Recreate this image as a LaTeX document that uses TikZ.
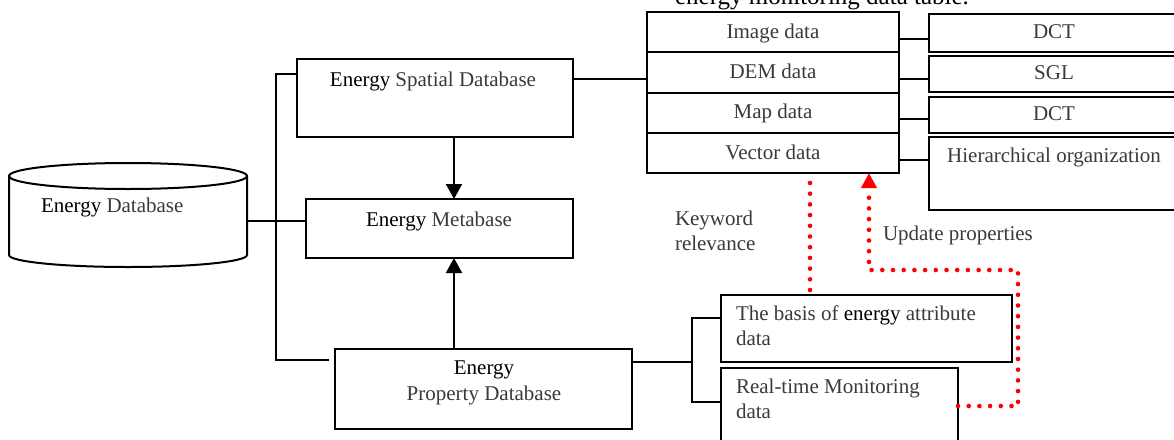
\documentclass[tikz,border=0pt]{standalone}
\usepackage{fontspec}
\setmainfont{Liberation Serif}
\usetikzlibrary{arrows.meta,calc}
\definecolor{txtgray}{HTML}{3A3A3A}
\definecolor{dotred}{HTML}{FF0000}
\newcommand{\En}{{\color{black}Energy}}
\begin{document}
\begin{tikzpicture}[x=1pt,y=-1pt,
  ln/.style={line width=2pt,draw=black},
  box/.style={draw=black,line width=2pt,inner sep=0pt,outer sep=0pt,fill=white},
  lbl/.style={inner sep=0pt,outer sep=0pt,text=txtgray,font=\fontsize{21}{25}\selectfont,text height=14.5pt,text depth=4.5pt},
  arr/.style={line width=2pt,-{Triangle[length=15pt,width=16pt]}},
  reddot/.style={draw=dotred,line width=4.6pt,line cap=round,dash pattern=on 0pt off 10.7pt}]
\useasboundingbox (0,0) rectangle (1174,439);
\fill[white] (0,0) rectangle (1174,439);

% title (cut at the top)
\node[inner sep=0pt,anchor=base,font=\fontsize{25}{30}\selectfont] (title) at (822,4.5) {energy monitoring data table.};

% cylinder
\node[inner sep=0pt,minimum width=238,minimum height=80] (db) at (128,221) {};
\draw[line width=2pt,fill=white] (9,176) -- (9,255) arc[start angle=180,end angle=0,x radius=119,y radius=12] -- (247,176);
\draw[line width=2pt] (128,176) ellipse[x radius=119,y radius=13];
\node[lbl,anchor=west] (tdb) at (41,207) {\En{} Database};

% main boxes
\node[box,minimum width=276,minimum height=78] (spatial) at (435,98) {};
\node[box,minimum width=267,minimum height=59] (meta) at (439.5,228.5) {};
\node[box,minimum width=297,minimum height=80] (prop) at (483.5,389) {};
\node[lbl] (tsp) at (433,81) {\En{} Spatial Database};
\node[lbl] (tme) at (439,221) {\En{} Metabase};
\node[lbl] (tpr1) at (484,369) {\En};
\node[lbl] (tpr2) at (484,395) {Property Database};

% table
\node[box,minimum width=252,minimum height=40] (r1) at (773,32) {};
\node[box,minimum width=252,minimum height=41] (r2) at (773,72.5) {};
\node[box,minimum width=252,minimum height=40] (r3) at (773,113) {};
\node[box,minimum width=252,minimum height=40] (r4) at (773,153) {};
\node[lbl] (tr1) at (773,33) {Image data};
\node[lbl] (tr2) at (773,73) {DEM data};
\node[lbl] (tr3) at (773,113) {Map data};
\node[lbl] (tr4) at (773,154) {Vector data};

% right boxes
\node[box,minimum width=251.5,minimum height=38] (b1) at (1054.25,33) {};
\node[box,minimum width=251.5,minimum height=36] (b2) at (1054.25,74) {};
\node[box,minimum width=251.5,minimum height=36] (b3) at (1054.25,115) {};
\node[box,minimum width=251.5,minimum height=73] (b4) at (1054.25,173.5) {};
\node[lbl] (tb1) at (1054,33) {DCT};
\node[lbl] (tb2) at (1054,74) {SGL};
\node[lbl] (tb3) at (1054,115) {DCT};
\node[lbl] (tb4) at (1054,157) {Hierarchical organization};

% attribute boxes
\node[box,minimum width=291,minimum height=67] (basis) at (866.5,328.5) {};
\node[box,minimum width=237,minimum height=82] (rt) at (839.5,409) {};
\node[lbl,anchor=west] (tba1) at (736,315) {The basis of {\color{black}energy} attribute};
\node[lbl,anchor=west] (tba2) at (736,340) {data};
\node[lbl,anchor=west] (trt1) at (736,388) {Real-time Monitoring};
\node[lbl,anchor=west] (trt2) at (736,413) {data};

% free labels
\node[lbl,anchor=west] (kw1) at (675,220) {Keyword};
\node[lbl,anchor=west] (kw2) at (675,245) {relevance};
\node[lbl,anchor=west] (upd) at (883,235) {Update properties};

% helper coordinates
\coordinate (busTop) at (276,74);
\coordinate (busBot) at (276,360);
\coordinate (busEnd) at (329,360);
\coordinate (ax) at (454,0);
\coordinate (ys) at (0,79);
\coordinate (y1) at (0,39);
\coordinate (y2) at (0,79);
\coordinate (y3) at (0,119);
\coordinate (y4) at (0,160);
\coordinate (yp) at (0,362);
\coordinate (fork) at (692,0);
\coordinate (yb) at (0,318);
\coordinate (yr) at (0,402);
\coordinate (kx) at (810,0);
\coordinate (ux) at (869,0);
\coordinate (rx) at (1018,0);
\coordinate (ry1) at (0,270);
\coordinate (ry2) at (0,406);

% black connectors
\draw[ln] (spatial.west |- busTop) -- (busTop) -- (busBot) -- (busEnd);
\draw[ln] (db.east) -- (db.east -| meta.west);
\draw[arr] (spatial.south -| ax) -- (meta.north -| ax);
\draw[arr] (prop.north -| ax) -- (meta.south -| ax);
\draw[ln] (spatial.east |- ys) -- (r2.west |- ys);
\draw[ln] (r1.east |- y1) -- (b1.west |- y1);
\draw[ln] (r2.east |- y2) -- (b2.west |- y2);
\draw[ln] (r3.east |- y3) -- (b3.west |- y3);
\draw[ln] (r4.east |- y4) -- (b4.west |- y4);
\draw[ln] (prop.east |- yp) -- (fork |- yp);
\draw[ln] (basis.west |- yb) -- (fork |- yb) -- (fork |- yr) -- (rt.west |- yr);

% red dotted connectors
\draw[reddot] ($(r4.south -| kx)+(0,10)$) -- (basis.north -| kx);
\draw[reddot,-{Triangle[length=15pt,width=15pt]}] (rt.east |- ry2) -- (rx |- ry2) -- (rx |- ry1) -- (ux |- ry1) -- (r4.south -| ux);
\end{tikzpicture}
\end{document}
